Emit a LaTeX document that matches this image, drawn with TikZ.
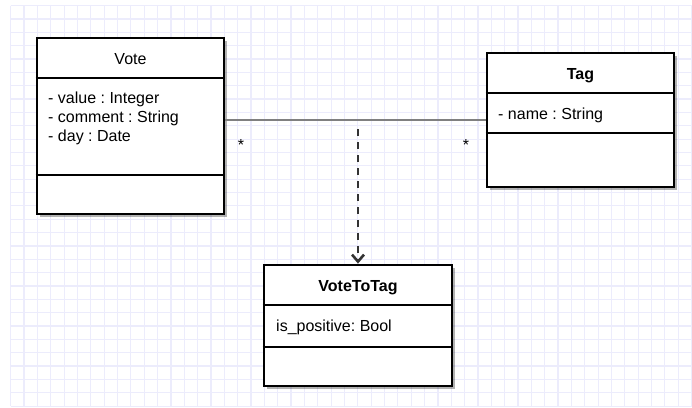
\documentclass[tikz,border=0pt]{standalone}
\usepackage{fontspec}
\setmainfont{Liberation Sans}
\usetikzlibrary{arrows.meta,shadows}
\definecolor{gridline}{RGB}{236,236,252}
\definecolor{assoc}{RGB}{128,128,128}
\definecolor{depline}{RGB}{51,51,51}
\begin{document}
\frenchspacing
\begin{tikzpicture}[x=1pt,y=-1pt,
  classbox/.style={draw=black, line width=2.8pt, fill=white, inner sep=0pt,
    drop shadow={shadow xshift=3pt, shadow yshift=-3pt, fill=black, opacity=0.3}},
  divider/.style={draw=black, line width=2.6pt},
  title/.style={anchor=base, inner sep=0pt, font=\fontsize{16}{19}\selectfont},
  boldtitle/.style={title, font=\fontsize{16}{19}\selectfont\bfseries},
  attr/.style={anchor=base west, inner sep=0pt, font=\fontsize{16}{19}\selectfont},
  mult/.style={anchor=base, inner sep=0pt, font=\fontsize{16}{19}\selectfont},
  assocline/.style={draw=assoc, line width=2.4pt},
  depend/.style={draw=depline, line width=2.6pt, dash pattern=on 7pt off 6pt,
    -{Straight Barb[length=7pt,width=12pt,line width=2.6pt]}}]

% page and background grid
\useasboundingbox (0,0) rectangle (692,407);
\fill[white] (0,0) rectangle (692,407);
\foreach \i in {0,...,51}
  \draw[gridline, line width=1.2pt] ({10.7+13.35*\i},5.6) -- ({10.7+13.35*\i},406);
\foreach \j in {0,...,30}
  \draw[gridline, line width=1.2pt] (10.7,{5.6+13.35*\j}) -- (692,{5.6+13.35*\j});

% class Vote
\node[classbox, minimum width=187pt, minimum height=176pt] (vote) at (130.5,126) {};
\draw[divider] (vote.west |- 0,78) -- (vote.east |- 0,78);
\draw[divider] (vote.west |- 0,175) -- (vote.east |- 0,175);
\node[title] (voteName) at (130.5,64) {Vote};
\node[attr] (voteA1) at (48,103.3) {- value : Integer};
\node[attr] (voteA2) at (48,122.7) {- comment : String};
\node[attr] (voteA3) at (48,141) {- day : Date};

% class Tag
\node[classbox, minimum width=187pt, minimum height=134pt] (tag) at (580.5,120) {};
\draw[divider] (tag.west |- 0,93) -- (tag.east |- 0,93);
\draw[divider] (tag.west |- 0,133) -- (tag.east |- 0,133);
\node[boldtitle] (tagName) at (580.5,79) {Tag};
\node[attr] (tagA1) at (498,119) {- name : String};

% association class VoteToTag
\node[classbox, minimum width=188pt, minimum height=121pt] (vtt) at (358,325.5) {};
\draw[divider] (vtt.west |- 0,305) -- (vtt.east |- 0,305);
\draw[divider] (vtt.west |- 0,347) -- (vtt.east |- 0,347);
\node[boldtitle] (vttName) at (358,291.7) {VoteToTag};
\node[attr] (vttA1) at (276,331) {is\_positive: Bool};

% many-to-many association
\draw[assocline] (vote.east |- tag.west) -- (tag.west);
\node[mult] (multVote) at (241,150.5) {*};
\node[mult] (multTag) at (466,150.5) {*};

% link from the association to its class
\coordinate (assocMid) at (358,120);
\draw[depend, shorten <=9pt] (assocMid) -- (vtt.north);
\end{tikzpicture}
\end{document}
